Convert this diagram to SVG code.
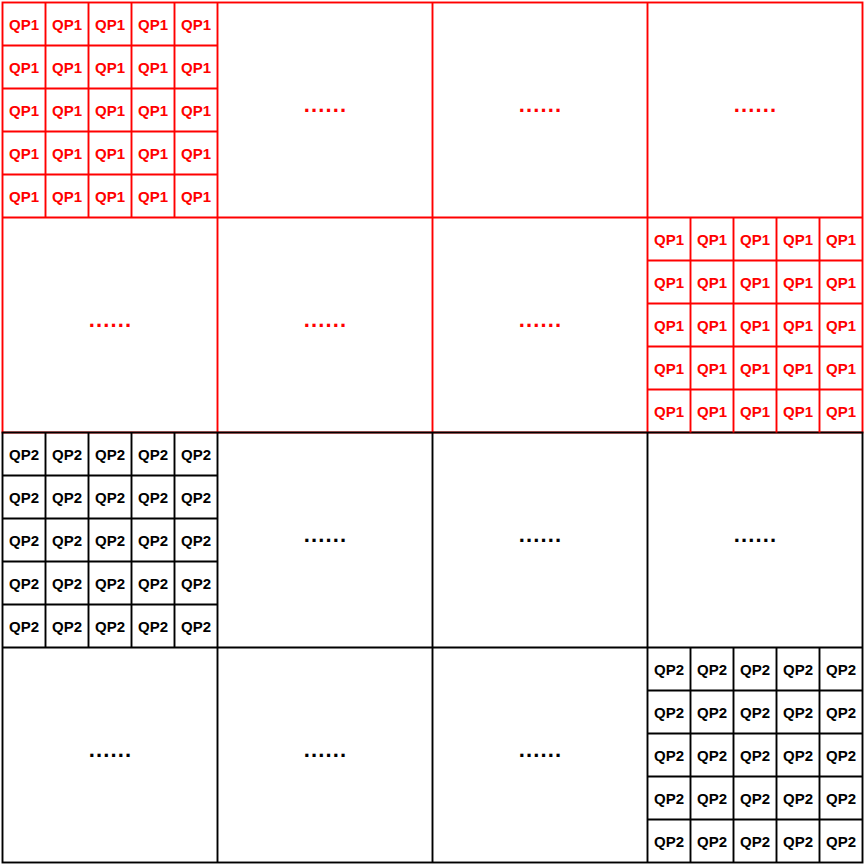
<svg xmlns="http://www.w3.org/2000/svg" width="865" height="865" viewBox="0 0 865 865">
<style>
.bg{fill:#ffffff}
.r{fill:none;stroke:#ff0000;stroke-width:1.9}
.k{fill:none;stroke:#000000;stroke-width:1.9}
.t1{font-family:"Liberation Sans",Arial,sans-serif;font-weight:bold;font-size:15px;fill:#ff0000;text-anchor:middle}
.t2{font-family:"Liberation Sans",Arial,sans-serif;font-weight:bold;font-size:15px;fill:#000000;text-anchor:middle}
.d1{font-family:"Liberation Sans",Arial,sans-serif;font-weight:bold;font-size:22px;fill:#ff0000;text-anchor:middle;letter-spacing:1.1px}
.d2{font-family:"Liberation Sans",Arial,sans-serif;font-weight:bold;font-size:22px;fill:#000000;text-anchor:middle;letter-spacing:1.1px}
</style>
<rect class="bg" x="0" y="0" width="865" height="865"/>

<g id="red-grid">
<rect class="r" x="2.5" y="2.5" width="860" height="430"/>
<path class="r" d="M217.5 2.5V432.5M432.5 2.5V432.5M647.5 2.5V432.5M2.5 217.5H862.5"/>
</g>

<g id="black-grid">
<rect class="k" x="2.5" y="432.5" width="860" height="430"/>
<path class="k" d="M217.5 432.5V862.5M432.5 432.5V862.5M647.5 432.5V862.5M2.5 647.5H862.5"/>
</g>

<g id="block-qp1-a">
<path class="r" d="M45.5 2.5V217.5M88.5 2.5V217.5M131.5 2.5V217.5M174.5 2.5V217.5M2.5 45.5H217.5M2.5 88.5H217.5M2.5 131.5H217.5M2.5 174.5H217.5"/>
<text class="t1" x="24" y="29.5">QP1</text><text class="t1" x="67" y="29.5">QP1</text><text class="t1" x="110" y="29.5">QP1</text><text class="t1" x="153" y="29.5">QP1</text><text class="t1" x="196" y="29.5">QP1</text>
<text class="t1" x="24" y="72.5">QP1</text><text class="t1" x="67" y="72.5">QP1</text><text class="t1" x="110" y="72.5">QP1</text><text class="t1" x="153" y="72.5">QP1</text><text class="t1" x="196" y="72.5">QP1</text>
<text class="t1" x="24" y="115.5">QP1</text><text class="t1" x="67" y="115.5">QP1</text><text class="t1" x="110" y="115.5">QP1</text><text class="t1" x="153" y="115.5">QP1</text><text class="t1" x="196" y="115.5">QP1</text>
<text class="t1" x="24" y="158.5">QP1</text><text class="t1" x="67" y="158.5">QP1</text><text class="t1" x="110" y="158.5">QP1</text><text class="t1" x="153" y="158.5">QP1</text><text class="t1" x="196" y="158.5">QP1</text>
<text class="t1" x="24" y="201.5">QP1</text><text class="t1" x="67" y="201.5">QP1</text><text class="t1" x="110" y="201.5">QP1</text><text class="t1" x="153" y="201.5">QP1</text><text class="t1" x="196" y="201.5">QP1</text>
</g>

<g id="block-qp1-b">
<path class="r" d="M690.5 217.5V432.5M733.5 217.5V432.5M776.5 217.5V432.5M819.5 217.5V432.5M647.5 260.5H862.5M647.5 303.5H862.5M647.5 346.5H862.5M647.5 389.5H862.5"/>
<text class="t1" x="669" y="244.5">QP1</text><text class="t1" x="712" y="244.5">QP1</text><text class="t1" x="755" y="244.5">QP1</text><text class="t1" x="798" y="244.5">QP1</text><text class="t1" x="841" y="244.5">QP1</text>
<text class="t1" x="669" y="287.5">QP1</text><text class="t1" x="712" y="287.5">QP1</text><text class="t1" x="755" y="287.5">QP1</text><text class="t1" x="798" y="287.5">QP1</text><text class="t1" x="841" y="287.5">QP1</text>
<text class="t1" x="669" y="330.5">QP1</text><text class="t1" x="712" y="330.5">QP1</text><text class="t1" x="755" y="330.5">QP1</text><text class="t1" x="798" y="330.5">QP1</text><text class="t1" x="841" y="330.5">QP1</text>
<text class="t1" x="669" y="373.5">QP1</text><text class="t1" x="712" y="373.5">QP1</text><text class="t1" x="755" y="373.5">QP1</text><text class="t1" x="798" y="373.5">QP1</text><text class="t1" x="841" y="373.5">QP1</text>
<text class="t1" x="669" y="416.5">QP1</text><text class="t1" x="712" y="416.5">QP1</text><text class="t1" x="755" y="416.5">QP1</text><text class="t1" x="798" y="416.5">QP1</text><text class="t1" x="841" y="416.5">QP1</text>
</g>

<g id="block-qp2-a">
<path class="k" d="M45.5 432.5V647.5M88.5 432.5V647.5M131.5 432.5V647.5M174.5 432.5V647.5M2.5 475.5H217.5M2.5 518.5H217.5M2.5 561.5H217.5M2.5 604.5H217.5"/>
<text class="t2" x="24" y="459.5">QP2</text><text class="t2" x="67" y="459.5">QP2</text><text class="t2" x="110" y="459.5">QP2</text><text class="t2" x="153" y="459.5">QP2</text><text class="t2" x="196" y="459.5">QP2</text>
<text class="t2" x="24" y="502.5">QP2</text><text class="t2" x="67" y="502.5">QP2</text><text class="t2" x="110" y="502.5">QP2</text><text class="t2" x="153" y="502.5">QP2</text><text class="t2" x="196" y="502.5">QP2</text>
<text class="t2" x="24" y="545.5">QP2</text><text class="t2" x="67" y="545.5">QP2</text><text class="t2" x="110" y="545.5">QP2</text><text class="t2" x="153" y="545.5">QP2</text><text class="t2" x="196" y="545.5">QP2</text>
<text class="t2" x="24" y="588.5">QP2</text><text class="t2" x="67" y="588.5">QP2</text><text class="t2" x="110" y="588.5">QP2</text><text class="t2" x="153" y="588.5">QP2</text><text class="t2" x="196" y="588.5">QP2</text>
<text class="t2" x="24" y="631.5">QP2</text><text class="t2" x="67" y="631.5">QP2</text><text class="t2" x="110" y="631.5">QP2</text><text class="t2" x="153" y="631.5">QP2</text><text class="t2" x="196" y="631.5">QP2</text>
</g>

<g id="block-qp2-b">
<path class="k" d="M690.5 647.5V862.5M733.5 647.5V862.5M776.5 647.5V862.5M819.5 647.5V862.5M647.5 690.5H862.5M647.5 733.5H862.5M647.5 776.5H862.5M647.5 819.5H862.5"/>
<text class="t2" x="669" y="674.5">QP2</text><text class="t2" x="712" y="674.5">QP2</text><text class="t2" x="755" y="674.5">QP2</text><text class="t2" x="798" y="674.5">QP2</text><text class="t2" x="841" y="674.5">QP2</text>
<text class="t2" x="669" y="717.5">QP2</text><text class="t2" x="712" y="717.5">QP2</text><text class="t2" x="755" y="717.5">QP2</text><text class="t2" x="798" y="717.5">QP2</text><text class="t2" x="841" y="717.5">QP2</text>
<text class="t2" x="669" y="760.5">QP2</text><text class="t2" x="712" y="760.5">QP2</text><text class="t2" x="755" y="760.5">QP2</text><text class="t2" x="798" y="760.5">QP2</text><text class="t2" x="841" y="760.5">QP2</text>
<text class="t2" x="669" y="803.5">QP2</text><text class="t2" x="712" y="803.5">QP2</text><text class="t2" x="755" y="803.5">QP2</text><text class="t2" x="798" y="803.5">QP2</text><text class="t2" x="841" y="803.5">QP2</text>
<text class="t2" x="669" y="846.5">QP2</text><text class="t2" x="712" y="846.5">QP2</text><text class="t2" x="755" y="846.5">QP2</text><text class="t2" x="798" y="846.5">QP2</text><text class="t2" x="841" y="846.5">QP2</text>
</g>

<g id="ellipses-red">
<text class="d1" x="325.5" y="111.5">......</text>
<text class="d1" x="540.5" y="111.5">......</text>
<text class="d1" x="755.5" y="111.5">......</text>
<text class="d1" x="110.5" y="326.5">......</text>
<text class="d1" x="325.5" y="326.5">......</text>
<text class="d1" x="540.5" y="326.5">......</text>
</g>
<g id="ellipses-black">
<text class="d2" x="325.5" y="541.5">......</text>
<text class="d2" x="540.5" y="541.5">......</text>
<text class="d2" x="755.5" y="541.5">......</text>
<text class="d2" x="110.5" y="756.5">......</text>
<text class="d2" x="325.5" y="756.5">......</text>
<text class="d2" x="540.5" y="756.5">......</text>
</g>
</svg>
